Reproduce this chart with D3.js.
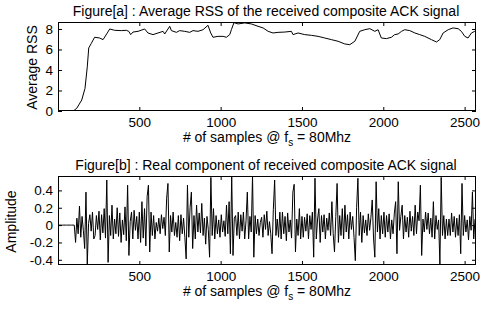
<!DOCTYPE html>
<html>
<head>
<meta charset="utf-8">
<script src="https://cdn.jsdelivr.net/npm/d3@7"></script>
<style>
  body { margin: 0; background: #fff; }
  text { font-family: "Liberation Sans", Arial, Helvetica, sans-serif; fill: #000; }
</style>
</head>
<body>
<svg id="vis" width="484" height="312"></svg>
<script>
// ---- data ----
// Figure[a]: running average RSS (sample index, value)
const rssSamples = [0, 94, 115, 146, 166, 180, 189, 205, 225, 256, 277, 303, 318, 348, 390, 420, 435, 447, 461, 492,
  533, 553, 584, 615, 646, 656, 687, 697, 728, 748, 779, 810, 830, 861, 892, 922, 939, 953, 984, 1015,
  1035, 1056, 1066, 1082, 1107, 1148, 1189, 1230, 1261, 1292, 1322, 1353, 1394, 1435, 1445, 1476, 1517, 1558, 1599, 1640,
  1681, 1722, 1763, 1794, 1825, 1855, 1886, 1917, 1948, 1968, 1988, 2019, 2050, 2070, 2091, 2112, 2132, 2163, 2194, 2224,
  2255, 2296, 2327, 2347, 2368, 2399, 2429, 2460, 2480, 2501, 2521, 2542, 2562, 2577];
const rssValues = [0, 0, 0.26, 1.07, 2.2, 4.3, 6.15, 6.6, 7.19, 7.12, 6.96, 7.61, 8.0, 7.87, 7.84, 7.87, 7.77, 7.45, 7.7, 7.77,
  8.0, 7.61, 7.45, 7.61, 7.77, 7.51, 8.26, 7.84, 7.67, 7.84, 7.77, 7.67, 7.84, 7.77, 7.93, 8.36, 7.61, 7.19, 7.28, 7.28,
  7.19, 7.45, 7.93, 8.62, 8.49, 8.59, 8.49, 8.26, 8.1, 7.77, 7.61, 7.67, 7.7, 7.77, 7.45, 7.61, 7.45, 7.38, 7.28, 7.12,
  6.96, 6.8, 6.54, 6.47, 6.8, 7.77, 7.93, 8.03, 7.77, 7.93, 7.12, 7.06, 7.19, 7.45, 7.51, 7.77, 7.93, 7.84, 7.61, 7.45,
  7.28, 6.96, 6.73, 6.96, 7.61, 7.93, 8.1, 8.03, 7.77, 7.28, 7.12, 7.61, 7.77, 7.84];

// Figure[b]: real component, one value every ampStep samples from ampStart
const ampStart = 4, ampStep = 8;
const amplitude = [
  0, 0, 0, 0, 0, 0, 0, 0, 0, 0, 0, 0,
  0, -0.2, 0.08, -0.1, 0.22, -0.14, 0.1, -0.06, -0.27, 0.38, -0.45, 0.02, 0.12, -0.07, 0.15, -0.16,
  -0.12, 0.11, -0.05, 0.16, -0.17, 0.12, -0.09, 0.19, -0.15, 0.52, -0.43, 0.11, -0.12, 0.23, -0.16, 0.07,
  -0.1, 0.2, -0.13, 0.14, -0.2, 0.06, -0.11, 0.21, -0.18, 0.46, -0.35, 0.04, 0.15, -0.16, 0.17, -0.06,
  0.1, -0.16, 0.15, -0.2, 0.27, -0.15, 0.19, -0.24, 0.33, 0.46, -0.31, 0.15, -0.12, 0.11, -0.16, 0.03,
  -0.07, 0.08, -0.1, 0.12, -0.04, 0.09, -0.12, 0.31, 0.48, -0.31, 0.11, -0.08, 0.15, -0.12, 0.03, -0.14,
  0.11, -0.18, 0.12, -0.1, 0.08, -0.14, -0.39, 0.46, -0.14, 0.2, 0.38, -0.27, 0.11, -0.16, 0.23, -0.08,
  0.14, -0.09, 0.25, -0.12, 0.08, -0.22, 0.1, -0.05, -0.37, 0.55, -0.12, 0.19, -0.16, 0.11, -0.1, 0.06,
  -0.14, 0.12, -0.08, 0.05, -0.13, 0.23, -0.1, 0.27, -0.33, 0.57, -0.35, 0.08, 0.11, -0.12, 0.15, -0.16,
  0.12, -0.07, 0.15, -0.16, 0.05, 0.38, -0.16, 0.1, -0.08, 0.57, -0.37, 0.11, -0.1, 0.07, -0.12, 0.03,
  0.09, -0.14, 0.12, -0.05, 0.16, -0.12, 0.04, -0.1, -0.33, 0.18, 0.52, -0.12, 0.07, -0.14, 0.15, -0.16,
  0.15, -0.1, 0.1, -0.18, 0.14, -0.08, 0.06, -0.15, 0.38, 0.47, -0.31, 0.07, -0.12, 0.19, -0.16, 0.1,
  -0.14, 0.09, -0.07, 0.13, -0.16, 0.11, -0.05, 0.15, -0.37, 0.54, -0.16, 0.07, 0.19, -0.2, 0.11, -0.08,
  0.12, -0.16, 0.08, -0.06, 0.14, -0.12, 0.27, -0.1, -0.31, 0.1, 0.48, -0.2, 0.11, -0.12, 0.19, -0.16,
  0.23, -0.08, 0.12, -0.16, 0.15, -0.05, 0.1, -0.14, -0.41, 0.2, 0.54, -0.12, 0.15, -0.2, 0.11, -0.09,
  0.06, -0.12, 0.13, -0.06, 0.09, 0.29, -0.15, -0.37, 0.5, -0.08, 0.19, -0.16, 0.11, -0.1, 0.15, -0.14,
  0.11, -0.08, 0.13, -0.16, 0.06, -0.1, 0.14, 0.27, -0.33, 0.5, -0.06, 0.1, 0.23, -0.16, 0.11, -0.08,
  0.09, -0.14, 0.16, -0.07, 0.1, -0.12, 0.23, -0.1, 0.15, 0.05, 0.46, -0.35, 0.07, -0.08, 0.15, -0.05,
  0.14, -0.1, 0.08, -0.14, 0.27, -0.16, 0.11, -0.05, 0.06, -0.45, 0.55, -0.12, 0.11, -0.16, 0.07, -0.12,
  0.07, -0.12, 0.14, -0.08, 0.1, -0.14, 0.08, -0.12, 0.12, -0.33, 0.48, -0.12, 0.11, -0.08, 0.06, -0.17,
  0.1, -0.06, 0.38, -0.16, 0.07
];

const xDomain = [0, 2570];
const xTicks = [500, 1000, 1500, 2000, 2500];
const rssDomain = [0, 8.68];
const rssTicks = [0, 2, 4, 6, 8];
const ampDomain = [-0.46, 0.566];
const ampTicks = [-0.4, -0.2, 0, 0.2, 0.4];

const titles = ["Figure[a] : Average RSS of the received composite ACK signal",
                "Figure[b] : Real component of received composite ACK signal"];
const yLabels = ["Average RSS", "Amplitude"];

// ---- drawing ----
const svg = d3.select("#vis");
const left = 58, right = 476;

function drawPanel(idx, top, bottom, yDomain, yTicks, points, yLabelX) {
  const x = d3.scaleLinear().domain(xDomain).range([left, right]);
  const y = d3.scaleLinear().domain(yDomain).range([bottom, top]);
  const g = svg.append("g");

  g.append("clipPath").attr("id", "clip" + idx)
    .append("rect").attr("x", left).attr("y", top)
    .attr("width", right - left).attr("height", bottom - top);

  g.append("path")
    .datum(points)
    .attr("clip-path", "url(#clip" + idx + ")")
    .attr("fill", "none")
    .attr("stroke", "#000")
    .attr("stroke-width", 1)
    .attr("stroke-linejoin", "round")
    .attr("d", d3.line().x(d => x(d[0])).y(d => y(d[1])));

  const fmt = d => d === 0 ? "0" : String(d);

  g.append("g").attr("transform", "translate(0," + bottom + ")")
    .call(d3.axisBottom(x).tickValues(xTicks).tickFormat(d3.format("d"))
      .tickSizeInner(-4).tickSizeOuter(0).tickPadding(6));
  g.append("g").attr("transform", "translate(0," + top + ")")
    .call(d3.axisTop(x).tickValues(xTicks).tickSizeInner(-4).tickSizeOuter(0).tickFormat(""));
  g.append("g").attr("transform", "translate(" + left + ",0)")
    .call(d3.axisLeft(y).tickValues(yTicks).tickFormat(fmt).tickSizeInner(-4).tickSizeOuter(0).tickPadding(5));
  g.append("g").attr("transform", "translate(" + right + ",0)")
    .call(d3.axisRight(y).tickValues(yTicks).tickSizeInner(-4).tickSizeOuter(0).tickFormat(""));

  g.selectAll(".domain").remove();
  g.selectAll(".tick line").attr("stroke", "#000");
  g.selectAll(".tick text").attr("font-size", 13.5).attr("font-family", null);

  g.append("rect")
    .attr("x", left + 0.5).attr("y", top + 0.5)
    .attr("width", right - left - 1).attr("height", bottom - top - 1)
    .attr("fill", "none").attr("stroke", "#000").attr("stroke-width", 1);

  // title
  g.append("text")
    .attr("x", (left + right) / 2 - 1).attr("y", top - 6)
    .attr("text-anchor", "middle").attr("font-size", 14)
    .text(titles[idx]);

  // x label with subscript
  const xl = g.append("text")
    .attr("x", (left + right) / 2).attr("y", bottom + 31)
    .attr("text-anchor", "middle").attr("font-size", 14);
  xl.append("tspan").text("# of samples @ f");
  xl.append("tspan").attr("font-size", 10).attr("dy", 4).text("s");
  xl.append("tspan").attr("dy", -4).text(" = 80Mhz");

  // y label
  g.append("text")
    .attr("transform", "translate(" + yLabelX + "," + ((top + bottom) / 2 + 1) + ") rotate(-90)")
    .attr("text-anchor", "middle").attr("font-size", 14)
    .text(yLabels[idx]);
}

const rssPoints = rssSamples.map((s, i) => [s, rssValues[i]]);
const ampPoints = amplitude.map((v, i) => [ampStart + i * ampStep, v]);

drawPanel(0, 22, 111, rssDomain, rssTicks, rssPoints, 37);
drawPanel(1, 176, 265, ampDomain, ampTicks, ampPoints, 16);
</script>
</body>
</html>
